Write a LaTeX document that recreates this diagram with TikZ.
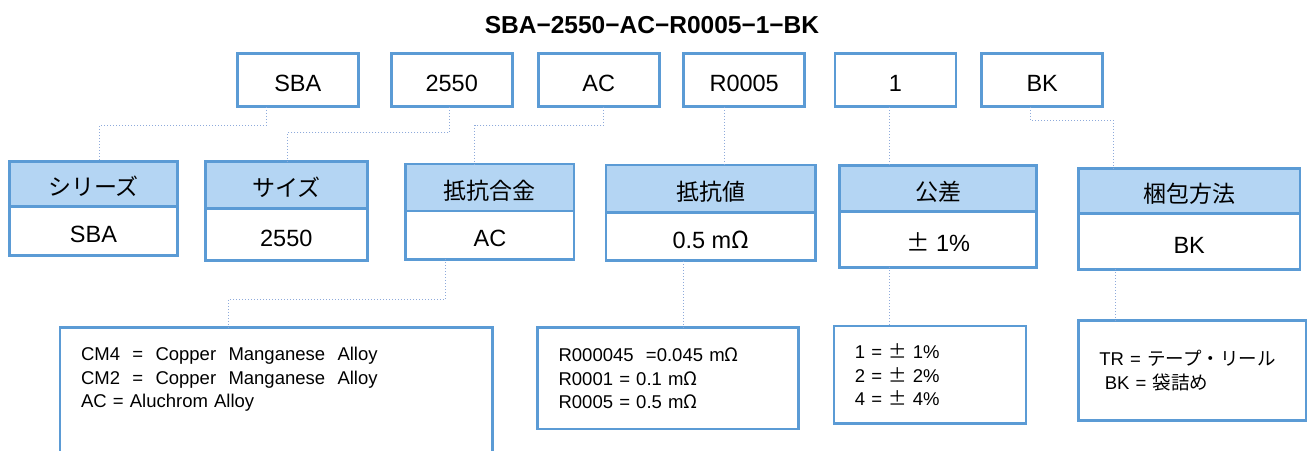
\documentclass[tikz,border=0pt]{standalone}
\usepackage{fontspec}
\setmainfont{Liberation Sans}
\newfontfamily\jp{Noto Sans CJK JP}
\newfontfamily\jpfw[RawFeature=+fwid]{Noto Sans CJK JP}
\usetikzlibrary{positioning}

\definecolor{boxblue}{RGB}{91,155,213}
\definecolor{headblue}{RGB}{180,213,243}
\definecolor{linkblue}{RGB}{142,170,219}

\tikzset{
  codebox/.style={draw=boxblue,line width=2.6pt,outer sep=0pt,
    minimum width=121pt,minimum height=53.5pt,
    font=\fontsize{23.5}{28}\selectfont,text height=23.5pt,text depth=0pt},
  headbox/.style={draw=boxblue,fill=headblue,line width=2.6pt,outer sep=0pt,
    font=\jp\fontsize{23}{28}\selectfont,text height=23pt,text depth=0pt},
  valbox/.style={draw=boxblue,fill=white,line width=2.6pt,outer sep=0pt,
    font=\fontsize{23.5}{28}\selectfont,text height=23.5pt,text depth=0pt},
  listbox/.style={draw=boxblue,line width=2.6pt,outer sep=0pt,
    align=left,inner xsep=21pt,font=\fontsize{18.5}{23.8}\selectfont},
  link/.style={draw=linkblue,line width=1pt,dotted}
}

\begin{document}
\begin{tikzpicture}[x=1pt,y=-1pt]
    \path[use as bounding box] (0,0) rectangle (1307,450);
    \clip (0,0) rectangle (1307,450);
    % Part number
    \node[font=\bfseries\fontsize{24.5}{29}\selectfont,anchor=base] (title)
        at (652,33.3) {SBA−2550−AC−R0005−1−BK};
    % Code fields
    \node[codebox] (sbaTop) at (297.8,80) {SBA};
    \node[codebox] (sizeTop) at (451.7,80) {2550};
    \node[codebox] (alloyTop) at (598.8,80) {AC};
    \node[codebox] (valueTop) at (744.2,80) {R0005};
    \node[codebox] (tolTop) at (895.5,80) {1};
    \node[codebox] (packTop) at (1042.2,80) {BK};
    % Meaning of each field
    \node[headbox,minimum width=168.4pt,minimum height=45pt] (seriesHead)
        at (93.5,184.2) {シリーズ};
    \node[valbox,below=0pt of seriesHead,minimum width=168.4pt,
        minimum height=48.8pt] (seriesVal) {SBA};
    \node[headbox,minimum width=162pt,minimum height=47pt] (sizeHead)
        at (286.3,185.2) {サイズ};
    \node[valbox,below=0pt of sizeHead,minimum width=162pt,
        minimum height=52pt] (sizeVal) {2550};
    \node[headbox,minimum width=168.3pt,minimum height=47pt] (alloyHead)
        at (489.9,187.5) {抵抗合金};
    \node[valbox,below=0pt of alloyHead,minimum width=168.3pt,
        minimum height=48.3pt] (alloyVal) {AC};
    \node[headbox,minimum width=209.5pt,minimum height=47.3pt] (valueHead)
        at (710.8,188.7) {抵抗値};
    \node[valbox,below=0pt of valueHead,minimum width=209.5pt,
        minimum height=48.4pt] (valueVal) {0.5 m{\jpfw Ω}};
    \node[headbox,minimum width=196.5pt,minimum height=46pt] (tolHead)
        at (938,188.7) {公差};
    \node[valbox,below=0pt of tolHead,minimum width=196.5pt,
        minimum height=55.6pt] (tolVal) {{\jpfw ±} 1\%};
    \node[headbox,minimum width=221.7pt,minimum height=45pt] (packHead)
        at (1189.2,190.8) {梱包方法};
    \node[valbox,below=0pt of packHead,minimum width=221.7pt,
        minimum height=56pt] (packVal) {BK};
    % Option lists
    \node[listbox,anchor=north west,text width=390.7pt,inner ysep=19.5pt]
        (alloyList) at (60,327.3)
        {CM4~~=~~Copper~~Manganese~~Alloy\\
         CM2~~=~~Copper~~Manganese~~Alloy\\
         AC = Aluchrom Alloy\rule[-56pt]{0pt}{56pt}};
    \node[listbox,text width=219pt,minimum height=101.7pt] (valueList)
        at (668.1,378.2)
        {R000045~~=0.045 m{\jpfw Ω}\\
         R0001 = 0.1 m{\jpfw Ω}\\
         R0005 = 0.5 m{\jpfw Ω}};
    \node[listbox,text width=150.2pt,minimum height=97.3pt] (tolList)
        at (929.9,374.7)
        {1 = {\jpfw ±} 1\%\\
         2 = {\jpfw ±} 2\%\\
         4 = {\jpfw ±} 4\%};
    \node[listbox,text width=185.7pt,minimum height=100pt] (packList)
        at (1192.2,370.7)
        {TR = {\jp テープ・リール}\\
         \hspace*{5.5pt}BK = {\jp 袋詰め}};
    % Leader lines
    \draw[link] ([xshift=-31.8pt]sbaTop.south) -- ++(0,18.6)
        -| ([xshift=6pt]seriesHead.north);
    \draw[link] ([xshift=-2.2pt]sizeTop.south) -- ++(0,25.8)
        -| ([xshift=1.2pt]sizeHead.north);
    \draw[link] ([xshift=5pt]alloyTop.south) -- ++(0,18.6)
        -| ([xshift=-15.1pt]alloyHead.north);
    \draw[link] ([xshift=-19.7pt]valueTop.south) -- ([xshift=13.7pt]valueHead.north);
    \draw[link] ([xshift=-6.5pt]tolTop.south) -- ([xshift=-49pt]tolHead.north);
    \draw[link] ([xshift=-11.6pt]packTop.south) -- ++(0,13.6)
        -| ([xshift=-75.7pt]packHead.north);
    \draw[link] ([xshift=-44.4pt]alloyVal.south) -- ++(0,40.4)
        -| ([xshift=-48.2pt]alloyList.north);
    \draw[link] ([xshift=-27.5pt]valueVal.south) -- ([xshift=15.2pt]valueList.north);
    \draw[link] ([xshift=-49pt]tolVal.south) -- ([xshift=-40.9pt]tolList.north);
    \draw[link] ([xshift=-74.2pt]packVal.south) -- ([xshift=-77.2pt]packList.north);
\end{tikzpicture}
\end{document}
